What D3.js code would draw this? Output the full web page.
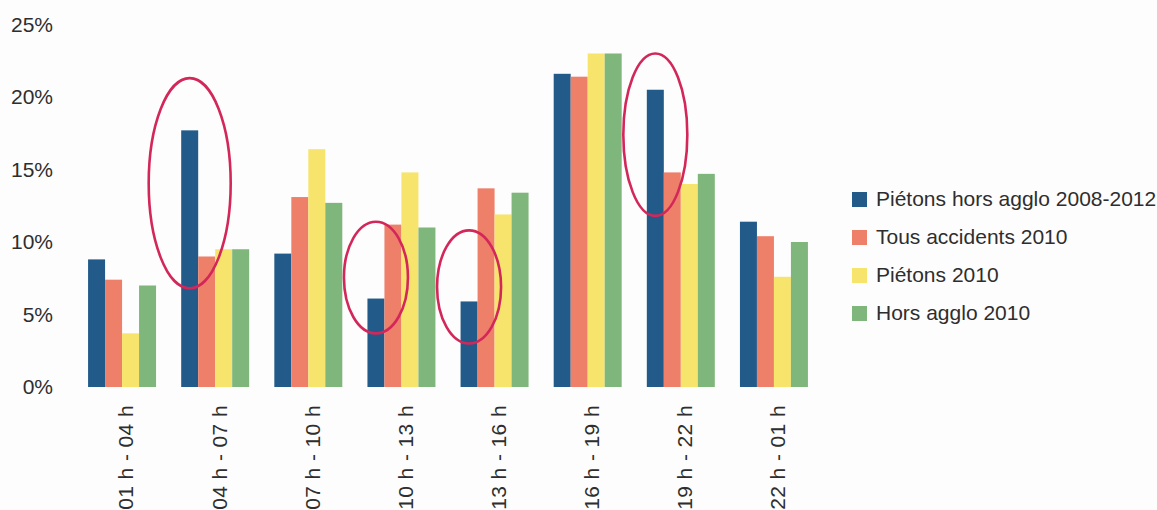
<!DOCTYPE html>
<html>
<head>
<meta charset="utf-8">
<script src="https://cdn.jsdelivr.net/npm/d3@7"></script>
<style>
  html, body { margin: 0; padding: 0; background: #fdfdfd; }
  svg { display: block; }
  text { font-family: "Liberation Sans", Arial, sans-serif; fill: #2e2e2e; }
</style>
</head>
<body>
<svg id="chart" width="1157" height="510"></svg>
<script>
// Time slots (x categories)
const categories = ["01 h - 04 h", "04 h - 07 h", "07 h - 10 h", "10 h - 13 h",
                    "13 h - 16 h", "16 h - 19 h", "19 h - 22 h", "22 h - 01 h"];

// Series names, in legend order
const seriesNames = ["Piétons hors agglo 2008-2012", "Tous accidents 2010", "Piétons 2010", "Hors agglo 2010"];

// Share of accidents per time slot (%)
const pietonsHorsAgglo0812 = [8.8, 17.7, 9.2, 6.1, 5.9, 21.6, 20.5, 11.4];
const tousAccidents2010    = [7.4,  9.0, 13.1, 11.2, 13.7, 21.4, 14.8, 10.4];
const pietons2010          = [3.7,  9.5, 16.4, 14.8, 11.9, 23.0, 14.0, 7.6];
const horsAgglo2010        = [7.0,  9.5, 12.7, 11.0, 13.4, 23.0, 14.7, 10.0];

const seriesValues = [pietonsHorsAgglo0812, tousAccidents2010, pietons2010, horsAgglo2010];
const seriesColors = ["#225a8a", "#ee7f69", "#f7e46c", "#7fb67c"];

// Y tick labels
const yTicks = [0, 5, 10, 15, 20, 25];

// Circled bars: category and value span (%) covered by each hand-drawn ellipse
const highlightCats = ["04 h - 07 h", "10 h - 13 h", "13 h - 16 h", "19 h - 22 h"];
const highlightLo   = [6.8, 3.7, 3.0, 11.8];
const highlightHi   = [21.3, 11.4, 10.8, 23.0];
const highlightRx   = [41, 32, 32, 32];

const svg = d3.select("#chart");

const x = d3.scaleBand()
  .domain(categories)
  .range([75.5, 820.5])
  .paddingInner(0.27)
  .paddingOuter(0.135);

const xs = d3.scaleBand()
  .domain(seriesNames)
  .range([0, x.bandwidth()]);

const y = d3.scaleLinear().domain([0, 25]).range([387, 24.5]);

// Bars
const groups = svg.append("g").selectAll("g")
  .data(categories)
  .join("g")
  .attr("transform", d => `translate(${x(d)},0)`);

groups.selectAll("rect")
  .data((c, i) => seriesNames.map((s, k) => ({ s, k, v: seriesValues[k][i] })))
  .join("rect")
  .attr("x", d => xs(d.s))
  .attr("width", xs.bandwidth())
  .attr("y", d => y(d.v))
  .attr("height", d => y(0) - y(d.v))
  .attr("fill", d => seriesColors[d.k]);

// Y axis: labels only
const yAxis = svg.append("g")
  .attr("transform", "translate(56,0)")
  .call(d3.axisLeft(y).tickValues(yTicks).tickFormat(d => d + "%").tickSize(0).tickPadding(3));
yAxis.select(".domain").remove();
yAxis.selectAll("text")
  .style("font-size", "21px")
  .style("font-family", "'Liberation Sans', Arial, sans-serif")
  .attr("fill", "#2e2e2e");

// X axis: rotated labels
const xAxis = svg.append("g")
  .attr("transform", `translate(0,${y(0) + 18})`)
  .call(d3.axisBottom(x).tickSize(0).tickPadding(0));
xAxis.select(".domain").remove();
xAxis.selectAll("text")
  .attr("transform", "rotate(-90)")
  .attr("text-anchor", "end")
  .attr("x", 0)
  .attr("y", 4)
  .attr("dy", "0.35em")
  .style("font-size", "21px")
  .style("letter-spacing", "0.4px")
  .style("font-family", "'Liberation Sans', Arial, sans-serif")
  .attr("fill", "#2e2e2e");

// Hand-drawn ellipses around the first series' bars
const blue = seriesNames[0];
svg.append("g").selectAll("ellipse")
  .data(highlightCats.map((c, i) => ({ c, lo: highlightLo[i], hi: highlightHi[i], rx: highlightRx[i] })))
  .join("ellipse")
  .attr("cx", d => x(d.c) + xs(blue) + xs.bandwidth() / 2)
  .attr("cy", d => (y(d.lo) + y(d.hi)) / 2)
  .attr("rx", d => d.rx)
  .attr("ry", d => (y(d.lo) - y(d.hi)) / 2)
  .attr("fill", "none")
  .attr("stroke", "#d3275a")
  .attr("stroke-width", 2.6);

// Legend
const legend = svg.append("g")
  .attr("transform", "translate(852,199)")
  .selectAll("g")
  .data(seriesNames)
  .join("g")
  .attr("transform", (d, i) => `translate(0,${i * 38})`);

legend.append("rect")
  .attr("x", 0).attr("y", -7)
  .attr("width", 15).attr("height", 15)
  .attr("fill", (d, i) => seriesColors[i]);

legend.append("text")
  .attr("x", 24)
  .attr("dy", "0.35em")
  .style("font-size", "21px")
  .text(d => d);
</script>
</body>
</html>
